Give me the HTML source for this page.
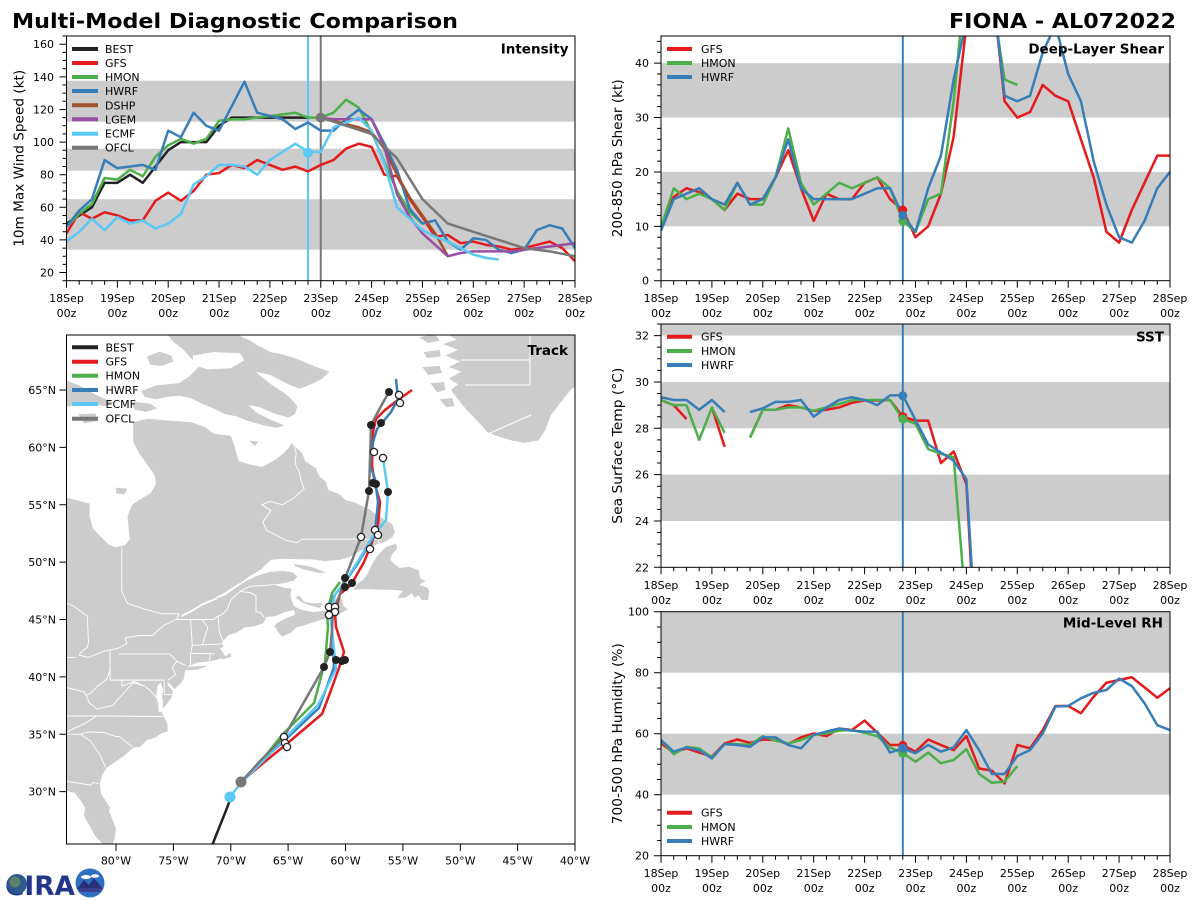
<!DOCTYPE html>
<html><head><meta charset="utf-8"><style>
html,body{margin:0;padding:0;background:#fff;}
svg{display:block;font-family:"DejaVu Sans","Liberation Sans",sans-serif;}
.d{fill:none;stroke-width:2.5;stroke-linejoin:round;stroke-linecap:butt;}
.t{font-size:11px;fill:#000;}
.lg{font-size:11px;fill:#000;}
.tt{font-size:13.5px;font-weight:bold;fill:#000;}
.yl{font-size:13px;fill:#000;}
.ax{fill:none;stroke:#000;stroke-width:1;}
.tk{stroke:#000;stroke-width:1;fill:none;}
.bd{fill:none;stroke:#fff;stroke-width:0.9;}
</style></head><body>
<svg width="1200" height="900" viewBox="0 0 1200 900" xmlns="http://www.w3.org/2000/svg">
<defs>
<clipPath id="ci"><rect x="66.5" y="36" width="508.5" height="244.7"/></clipPath>
<clipPath id="cs"><rect x="661" y="36" width="509" height="244.7"/></clipPath>
<clipPath id="ct"><rect x="661" y="324" width="509" height="243.3"/></clipPath>
<clipPath id="cr"><rect x="661" y="611.7" width="509" height="244"/></clipPath>
<clipPath id="cm"><rect x="66.5" y="335" width="508.5" height="509"/></clipPath>
</defs>
<rect width="1200" height="900" fill="#fff"/>

<!-- Titles -->
<text x="12" y="28" font-size="20.5" font-weight="bold" textLength="446" lengthAdjust="spacingAndGlyphs">Multi-Model Diagnostic Comparison</text>
<text x="1176" y="28" font-size="20.5" font-weight="bold" text-anchor="end" textLength="227" lengthAdjust="spacingAndGlyphs">FIONA - AL072022</text>

<!-- ================= INTENSITY ================= -->
<rect x="66.5" y="80.7" width="508.5" height="41" fill="#cccccc"/>
<rect x="66.5" y="148.7" width="508.5" height="22" fill="#cccccc"/>
<rect x="66.5" y="199.2" width="508.5" height="50.5" fill="#cccccc"/>
<g clip-path="url(#ci)">
<line x1="308" y1="36" x2="308" y2="281" stroke="#5bc8f5" stroke-width="2"/>
<line x1="320.75" y1="36" x2="320.75" y2="281" stroke="#777" stroke-width="2"/>
<g transform="matrix(2.11875 0 0 -1.631 66.5 305.17)">
<polyline class="d" vector-effect="non-scaling-stroke" stroke="#222" points="0,50 6,55 12,60 18,75 24,75 30,80 36,75 42,85 48,95 54,100 60,100 66,100 72,110 78,115 84,115 90,115 96,115 102,115 108,115 114,115"/>
<polyline class="d" vector-effect="non-scaling-stroke" stroke="#e41a1c" points="0,44 6,57 12,53 18,57 24,55 30,52 36,52 42,64 48,69 54,64 60,70 66,80 72,81 78,86 84,84 90,89 96,86 102,83 108,85 114,82 120,86 126,89 132,96 138,99 144,97 150,80 156,79 162,65 168,54 174,42 180,43 186,38 192,39 198,37 204,36 210,34 216,35 222,37 228,39 234,35 240,27"/>
<polyline class="d" vector-effect="non-scaling-stroke" stroke="#4daf4a" points="0,48 6,56 12,62 18,78 24,77 30,83 36,79 42,91 48,98 54,102 60,99 66,102 72,113 78,114 84,114 90,115 96,116 102,117 108,118 114,115 120,115 126,118 132,126 138,121 144,106 150,88 156,70 162,57 168,50"/>
<polyline class="d" vector-effect="non-scaling-stroke" stroke="#377eb8" points="0,48 6,58 12,65 18,89 24,84 30,85 36,86 42,83 48,107 54,103 60,118 66,110 72,107 78,122 84,137 90,118 96,116 102,114 108,108 114,112 120,107 126,107 132,114 138,120 144,114 150,99 156,83 162,59 168,50 174,52 180,39 186,34 192,41 198,40 204,34 210,32 216,34 222,46 228,49 234,47 240,35"/>
<polyline class="d" vector-effect="non-scaling-stroke" stroke="#a0522d" points="120,115 126,113 132,111 138,109 144,106 150,96 156,80 162,66 168,55 174,44 180,30"/>
<polyline class="d" vector-effect="non-scaling-stroke" stroke="#984ea3" points="120,115 126,114 132,114 138,114 144,114 150,97 156,68 162,54 168,44 174,37 180,30 186,32 192,33 198,33 204,33 210,33 216,34 222,35 228,36 234,37 240,38"/>
<polyline class="d" vector-effect="non-scaling-stroke" stroke="#5bc8f5" points="0,39 6,45 12,53 18,46 24,54 30,50 36,52 42,47 48,50 54,56 60,74 66,79 72,86 78,86 84,85 90,80 96,89 102,94 108,99 114,94 120,94 126,109 132,112 138,115 144,107 150,87 156,60 162,53 168,46 174,42 180,39 186,35 192,31 198,29 204,28"/>
<polyline class="d" vector-effect="non-scaling-stroke" stroke="#777" points="120,115 132,110 144,105 156,90 168,65 180,50 192,45 204,40 216,35 228,33 240,30"/>
</g>
<circle cx="308" cy="152.7" r="5" fill="#5bc8f5"/>
<circle cx="320.75" cy="117.6" r="5" fill="#777"/>
</g>
<rect class="ax" x="66.5" y="36" width="508.5" height="244.7"/>
<g transform="matrix(1 0 0 -1.631 0 305.17)">
<path class="tk" vector-effect="non-scaling-stroke" d="M59.5 20H66.5M59.5 40H66.5M59.5 60H66.5M59.5 80H66.5M59.5 100H66.5M59.5 120H66.5M59.5 140H66.5M59.5 160H66.5"/>
<path class="tk" vector-effect="non-scaling-stroke" d="M62.5 15H66.5M62.5 25H66.5M62.5 30H66.5M62.5 35H66.5M62.5 45H66.5M62.5 50H66.5M62.5 55H66.5M62.5 65H66.5M62.5 70H66.5M62.5 75H66.5M62.5 85H66.5M62.5 90H66.5M62.5 95H66.5M62.5 105H66.5M62.5 110H66.5M62.5 115H66.5M62.5 125H66.5M62.5 130H66.5M62.5 135H66.5M62.5 145H66.5M62.5 150H66.5M62.5 155H66.5M62.5 165H66.5"/>
</g>
<g transform="matrix(2.11875 0 0 1 66.5 0)">
<path class="tk" vector-effect="non-scaling-stroke" d="M0 280.7v7M24 280.7v7M48 280.7v7M72 280.7v7M96 280.7v7M120 280.7v7M144 280.7v7M168 280.7v7M192 280.7v7M216 280.7v7M240 280.7v7"/>
<path class="tk" vector-effect="non-scaling-stroke" d="M6 280.7v4M12 280.7v4M18 280.7v4M30 280.7v4M36 280.7v4M42 280.7v4M54 280.7v4M60 280.7v4M66 280.7v4M78 280.7v4M84 280.7v4M90 280.7v4M102 280.7v4M108 280.7v4M114 280.7v4M126 280.7v4M132 280.7v4M138 280.7v4M150 280.7v4M156 280.7v4M162 280.7v4M174 280.7v4M180 280.7v4M186 280.7v4M198 280.7v4M204 280.7v4M210 280.7v4M222 280.7v4M228 280.7v4M234 280.7v4"/>
</g>
<g class="t" text-anchor="end">
<text x="54" y="276.5">20</text><text x="54" y="243.9">40</text><text x="54" y="211.3">60</text><text x="54" y="178.7">80</text><text x="54" y="146.1">100</text><text x="54" y="113.4">120</text><text x="54" y="80.8">140</text><text x="54" y="48.2">160</text>
</g>
<g class="t" text-anchor="middle">
<text x="66.5" y="302">18Sep</text><text x="117.4" y="302">19Sep</text><text x="168.2" y="302">20Sep</text><text x="219.1" y="302">21Sep</text><text x="269.9" y="302">22Sep</text><text x="320.8" y="302">23Sep</text><text x="371.6" y="302">24Sep</text><text x="422.5" y="302">25Sep</text><text x="473.3" y="302">26Sep</text><text x="524.2" y="302">27Sep</text><text x="575" y="302">28Sep</text>
<text x="66.5" y="317">00z</text><text x="117.4" y="317">00z</text><text x="168.2" y="317">00z</text><text x="219.1" y="317">00z</text><text x="269.9" y="317">00z</text><text x="320.8" y="317">00z</text><text x="371.6" y="317">00z</text><text x="422.5" y="317">00z</text><text x="473.3" y="317">00z</text><text x="524.2" y="317">00z</text><text x="575" y="317">00z</text>
</g>
<text class="yl" transform="translate(23.5 158.3) rotate(-90)" text-anchor="middle" textLength="177" lengthAdjust="spacingAndGlyphs">10m Max Wind Speed (kt)</text>
<text class="tt" x="568.5" y="53.5" text-anchor="end">Intensity</text>
<g stroke-width="4">
<line x1="72" y1="49" x2="98" y2="49" stroke="#222"/>
<line x1="72" y1="63" x2="98" y2="63" stroke="#e41a1c"/>
<line x1="72" y1="77" x2="98" y2="77" stroke="#4daf4a"/>
<line x1="72" y1="91" x2="98" y2="91" stroke="#377eb8"/>
<line x1="72" y1="105.3" x2="98" y2="105.3" stroke="#a0522d"/>
<line x1="72" y1="119.3" x2="98" y2="119.3" stroke="#984ea3"/>
<line x1="72" y1="133.7" x2="98" y2="133.7" stroke="#5bc8f5"/>
<line x1="72" y1="147.7" x2="98" y2="147.7" stroke="#777"/>
</g>
<g class="lg">
<text x="105" y="53">BEST</text><text x="105" y="67">GFS</text><text x="105" y="81">HMON</text><text x="105" y="95">HWRF</text><text x="105" y="109.3">DSHP</text><text x="105" y="123.3">LGEM</text><text x="105" y="137.7">ECMF</text><text x="105" y="151.7">OFCL</text>
</g>

<!-- ================= SHEAR ================= -->
<rect x="661" y="63.2" width="509" height="54.4" fill="#cccccc"/>
<rect x="661" y="171.9" width="509" height="54.4" fill="#cccccc"/>
<g clip-path="url(#cs)">
<line x1="902.8" y1="36" x2="902.8" y2="281" stroke="#377eb8" stroke-width="2"/>
<g transform="matrix(2.1208 0 0 -5.438 661 280.7)">
<polyline class="d" vector-effect="non-scaling-stroke" stroke="#e41a1c" points="0,10 6,15.4 12,17 18,16.3 24,15 30,13 36,16 42,15 48,15 54,19 60,24 66,17 72,11 78,16 84,15 90,15 96,18 102,19 108,15 114,13 120,8 126,10 132,16 138,26.5 144,47 150,60 156,55 162,33 168,30 174,31 180,36 186,34 192,33 198,26 204,19 210,9 216,7 222,13 228,18 234,23 240,23"/>
<polyline class="d" vector-effect="non-scaling-stroke" stroke="#4daf4a" points="0,9.8 6,17 12,15 18,16 24,15 30,13 36,18 42,14 48,14 54,19 60,28 66,18 72,14 78,16 84,18 90,17 96,18 102,19 108,17 114,11 120,9 126,15 132,16 138,33 144,57 150,60 156,52 162,37 168,36"/>
<polyline class="d" vector-effect="non-scaling-stroke" stroke="#377eb8" points="0,9.2 6,15 12,16 18,17 24,15 30,14 36,18 42,14 48,15 54,19 60,26 66,17 72,15 78,15 84,15 90,15 96,16 102,17 108,17 114,12 120,9 126,17 132,23 138,37 144,47.7 150,60 156,55 162,34 168,33 174,34 180,42 186,47 192,38 198,33 204,22 210,14 216,8 222,7 228,11 234,17 240,20"/>
</g>
<circle cx="902.8" cy="210" r="4.5" fill="#e41a1c"/>
<circle cx="902.8" cy="220.9" r="4.5" fill="#4daf4a"/>
<circle cx="902.8" cy="215.4" r="4.5" fill="#377eb8"/>
</g>
<rect class="ax" x="661" y="36" width="509" height="244.7"/>
<g transform="matrix(1 0 0 -5.438 0 280.7)">
<path class="tk" vector-effect="non-scaling-stroke" d="M654 0H661M654 10H661M654 20H661M654 30H661M654 40H661"/>
<path class="tk" vector-effect="non-scaling-stroke" d="M657 2H661M657 4H661M657 6H661M657 8H661M657 12H661M657 14H661M657 16H661M657 18H661M657 22H661M657 24H661M657 26H661M657 28H661M657 32H661M657 34H661M657 36H661M657 38H661M657 42H661M657 44H661"/>
</g>
<g transform="matrix(2.1208 0 0 1 661 0)">
<path class="tk" vector-effect="non-scaling-stroke" d="M0 280.7v7M24 280.7v7M48 280.7v7M72 280.7v7M96 280.7v7M120 280.7v7M144 280.7v7M168 280.7v7M192 280.7v7M216 280.7v7M240 280.7v7"/>
<path class="tk" vector-effect="non-scaling-stroke" d="M6 280.7v4M12 280.7v4M18 280.7v4M30 280.7v4M36 280.7v4M42 280.7v4M54 280.7v4M60 280.7v4M66 280.7v4M78 280.7v4M84 280.7v4M90 280.7v4M102 280.7v4M108 280.7v4M114 280.7v4M126 280.7v4M132 280.7v4M138 280.7v4M150 280.7v4M156 280.7v4M162 280.7v4M174 280.7v4M180 280.7v4M186 280.7v4M198 280.7v4M204 280.7v4M210 280.7v4M222 280.7v4M228 280.7v4M234 280.7v4"/>
</g>
<g class="t" text-anchor="end">
<text x="649" y="284.7">0</text><text x="649" y="230.3">10</text><text x="649" y="175.9">20</text><text x="649" y="121.6">30</text><text x="649" y="67.2">40</text>
</g>
<g class="t" text-anchor="middle">
<text x="661" y="302">18Sep</text><text x="711.9" y="302">19Sep</text><text x="762.8" y="302">20Sep</text><text x="813.7" y="302">21Sep</text><text x="864.6" y="302">22Sep</text><text x="915.5" y="302">23Sep</text><text x="966.4" y="302">24Sep</text><text x="1017.3" y="302">25Sep</text><text x="1068.2" y="302">26Sep</text><text x="1119.1" y="302">27Sep</text><text x="1170" y="302">28Sep</text>
<text x="661" y="317">00z</text><text x="711.9" y="317">00z</text><text x="762.8" y="317">00z</text><text x="813.7" y="317">00z</text><text x="864.6" y="317">00z</text><text x="915.5" y="317">00z</text><text x="966.4" y="317">00z</text><text x="1017.3" y="317">00z</text><text x="1068.2" y="317">00z</text><text x="1119.1" y="317">00z</text><text x="1170" y="317">00z</text>
</g>
<text class="yl" transform="translate(622 158.3) rotate(-90)" text-anchor="middle" textLength="158" lengthAdjust="spacingAndGlyphs">200-850 hPa Shear (kt)</text>
<text class="tt" x="1164" y="53.5" text-anchor="end">Deep-Layer Shear</text>
<g stroke-width="4">
<line x1="667" y1="49" x2="692" y2="49" stroke="#e41a1c"/>
<line x1="667" y1="63" x2="692" y2="63" stroke="#4daf4a"/>
<line x1="667" y1="77" x2="692" y2="77" stroke="#377eb8"/>
</g>
<g class="lg"><text x="701" y="53">GFS</text><text x="701" y="67">HMON</text><text x="701" y="81">HWRF</text></g>

<!-- ================= SST ================= -->
<rect x="661" y="324" width="509" height="11.6" fill="#cccccc"/>
<rect x="661" y="382" width="509" height="46.3" fill="#cccccc"/>
<rect x="661" y="474.6" width="509" height="46.4" fill="#cccccc"/>
<g clip-path="url(#ct)">
<line x1="902.8" y1="324" x2="902.8" y2="568" stroke="#377eb8" stroke-width="2"/>
<g transform="matrix(2.1208 0 0 -23.17 661 1077.04)">
<polyline class="d" vector-effect="non-scaling-stroke" stroke="#e41a1c" points="0,29.22 6,29.0 12,28.4"/>
<polyline class="d" vector-effect="non-scaling-stroke" stroke="#e41a1c" points="24,28.9 30,27.2"/>
<polyline class="d" vector-effect="non-scaling-stroke" stroke="#e41a1c" points="42,27.6 48,28.8 54,28.8 60,29.0 66,28.9 72,28.75 78,28.8 84,28.9 90,29.1 96,29.2 102,29.2 108,29.22 114,28.5 120,28.33 126,28.33 132,26.5 138,27.0 144,25.6 150,15.8"/>
<polyline class="d" vector-effect="non-scaling-stroke" stroke="#4daf4a" points="0,29.22 6,29.0 12,29.0 18,27.5 24,28.9 30,27.8"/>
<polyline class="d" vector-effect="non-scaling-stroke" stroke="#4daf4a" points="42,27.6 48,28.8 54,28.8 60,28.9 66,28.9 72,28.76 78,28.9 84,29.05 90,29.22 96,29.22 102,29.22 108,29.22 114,28.4 120,28.2 126,27.1 132,26.9 138,26.75 144,20"/>
<polyline class="d" vector-effect="non-scaling-stroke" stroke="#377eb8" points="0,29.34 6,29.22 12,29.22 18,28.8 24,29.22 30,28.7"/>
<polyline class="d" vector-effect="non-scaling-stroke" stroke="#377eb8" points="42,28.7 48,28.86 54,29.14 60,29.14 66,29.22 72,28.5 78,28.9 84,29.22 90,29.34 96,29.22 102,29.0 108,29.42 114,29.42 120,28.36 126,27.3 132,26.95 138,26.6 144,25.8 150,16.7"/>
</g>
<circle cx="902.8" cy="416.7" r="4.5" fill="#e41a1c"/>
<circle cx="902.8" cy="419" r="4.5" fill="#4daf4a"/>
<circle cx="902.8" cy="395.8" r="4.5" fill="#377eb8"/>
</g>
<rect class="ax" x="661" y="324" width="509" height="243.3"/>
<g transform="matrix(1 0 0 -23.17 0 1077.04)">
<path class="tk" vector-effect="non-scaling-stroke" d="M654 22H661M654 24H661M654 26H661M654 28H661M654 30H661M654 32H661"/>
<path class="tk" vector-effect="non-scaling-stroke" d="M657 22.5H661M657 23H661M657 23.5H661M657 24.5H661M657 25H661M657 25.5H661M657 26.5H661M657 27H661M657 27.5H661M657 28.5H661M657 29H661M657 29.5H661M657 30.5H661M657 31H661M657 31.5H661M657 32.5H661"/>
</g>
<g transform="matrix(2.1208 0 0 1 661 0)">
<path class="tk" vector-effect="non-scaling-stroke" d="M0 567.3v7M24 567.3v7M48 567.3v7M72 567.3v7M96 567.3v7M120 567.3v7M144 567.3v7M168 567.3v7M192 567.3v7M216 567.3v7M240 567.3v7"/>
<path class="tk" vector-effect="non-scaling-stroke" d="M6 567.3v4M12 567.3v4M18 567.3v4M30 567.3v4M36 567.3v4M42 567.3v4M54 567.3v4M60 567.3v4M66 567.3v4M78 567.3v4M84 567.3v4M90 567.3v4M102 567.3v4M108 567.3v4M114 567.3v4M126 567.3v4M132 567.3v4M138 567.3v4M150 567.3v4M156 567.3v4M162 567.3v4M174 567.3v4M180 567.3v4M186 567.3v4M198 567.3v4M204 567.3v4M210 567.3v4M222 567.3v4M228 567.3v4M234 567.3v4"/>
</g>
<g class="t" text-anchor="end">
<text x="649" y="571.3">22</text><text x="649" y="525">24</text><text x="649" y="478.6">26</text><text x="649" y="432.3">28</text><text x="649" y="386">30</text><text x="649" y="339.6">32</text>
</g>
<g class="t" text-anchor="middle">
<text x="661" y="589">18Sep</text><text x="711.9" y="589">19Sep</text><text x="762.8" y="589">20Sep</text><text x="813.7" y="589">21Sep</text><text x="864.6" y="589">22Sep</text><text x="915.5" y="589">23Sep</text><text x="966.4" y="589">24Sep</text><text x="1017.3" y="589">25Sep</text><text x="1068.2" y="589">26Sep</text><text x="1119.1" y="589">27Sep</text><text x="1170" y="589">28Sep</text>
<text x="661" y="604">00z</text><text x="711.9" y="604">00z</text><text x="762.8" y="604">00z</text><text x="813.7" y="604">00z</text><text x="864.6" y="604">00z</text><text x="915.5" y="604">00z</text><text x="966.4" y="604">00z</text><text x="1017.3" y="604">00z</text><text x="1068.2" y="604">00z</text><text x="1119.1" y="604">00z</text><text x="1170" y="604">00z</text>
</g>
<text class="yl" transform="translate(622 445.7) rotate(-90)" text-anchor="middle" textLength="156" lengthAdjust="spacingAndGlyphs">Sea Surface Temp (°C)</text>
<text class="tt" x="1164" y="341.5" text-anchor="end">SST</text>
<g stroke-width="4">
<line x1="667" y1="336.7" x2="692" y2="336.7" stroke="#e41a1c"/>
<line x1="667" y1="351" x2="692" y2="351" stroke="#4daf4a"/>
<line x1="667" y1="365" x2="692" y2="365" stroke="#377eb8"/>
</g>
<g class="lg"><text x="701" y="340.7">GFS</text><text x="701" y="355">HMON</text><text x="701" y="369">HWRF</text></g>

<!-- ================= RH ================= -->
<rect x="661" y="611.7" width="509" height="61" fill="#cccccc"/>
<rect x="661" y="733.7" width="509" height="61" fill="#cccccc"/>
<g clip-path="url(#cr)">
<line x1="902.8" y1="611.7" x2="902.8" y2="856" stroke="#377eb8" stroke-width="2"/>
<g transform="matrix(2.1208 0 0 -3.05 661 916.7)">
<polyline class="d" vector-effect="non-scaling-stroke" stroke="#e41a1c" points="0,56.8 6,53.8 12,55.2 18,53.8 24,52.5 30,56.8 36,58.1 42,57 48,58.1 54,57.9 60,56.6 66,58.8 72,60.1 78,59.2 84,61.7 90,61.2 96,64.3 102,60.3 108,56.3 114,56.3 120,54.1 126,58.1 132,56.3 138,54.6 144,59.2 150,48.6 156,47.9 162,43.7 168,56.3 174,55.2 180,61.2 186,69.1 192,69.1 198,66.7 204,72.1 210,76.7 216,77.6 222,78.5 228,75.2 234,71.8 240,74.9"/>
<polyline class="d" vector-effect="non-scaling-stroke" stroke="#4daf4a" points="0,57.9 6,53.3 12,55.7 18,55.2 24,52.2 30,56.6 36,56.6 42,56.3 48,59.2 54,57.7 60,56.8 66,57.9 72,59.6 78,60.1 84,61 90,61.2 96,60.3 102,59.2 108,55.5 114,53.6 120,50.8 126,53.8 132,50.3 138,51.4 144,54.9 150,46.8 156,43.9 162,44.3 168,49.4"/>
<polyline class="d" vector-effect="non-scaling-stroke" stroke="#377eb8" points="0,57.9 6,54.1 12,55.5 18,54.6 24,51.9 30,56.6 36,56.3 42,55.7 48,58.8 54,58.8 60,56.3 66,55.2 72,59.6 78,60.7 84,61.7 90,61 96,60.7 102,60.7 108,53.8 114,55.2 120,53.6 126,56.3 132,54.1 138,55.5 144,61.2 150,54.6 156,46.8 162,46.8 168,52.7 174,54.6 180,60.1 186,68.9 192,69.1 198,71.6 204,73.4 210,74.3 216,78.1 222,75.6 228,70 234,62.8 240,61.2"/>
</g>
<circle cx="902.8" cy="745.4" r="4.5" fill="#e41a1c"/>
<circle cx="902.8" cy="753.2" r="4.5" fill="#4daf4a"/>
<circle cx="902.8" cy="748.3" r="4.5" fill="#377eb8"/>
</g>
<rect class="ax" x="661" y="611.7" width="509" height="244"/>
<g transform="matrix(1 0 0 -3.05 0 916.7)">
<path class="tk" vector-effect="non-scaling-stroke" d="M654 20H661M654 40H661M654 60H661M654 80H661M654 100H661"/>
<path class="tk" vector-effect="non-scaling-stroke" d="M657 25H661M657 30H661M657 35H661M657 45H661M657 50H661M657 55H661M657 65H661M657 70H661M657 75H661M657 85H661M657 90H661M657 95H661"/>
</g>
<g transform="matrix(2.1208 0 0 1 661 0)">
<path class="tk" vector-effect="non-scaling-stroke" d="M0 855.7v7M24 855.7v7M48 855.7v7M72 855.7v7M96 855.7v7M120 855.7v7M144 855.7v7M168 855.7v7M192 855.7v7M216 855.7v7M240 855.7v7"/>
<path class="tk" vector-effect="non-scaling-stroke" d="M6 855.7v4M12 855.7v4M18 855.7v4M30 855.7v4M36 855.7v4M42 855.7v4M54 855.7v4M60 855.7v4M66 855.7v4M78 855.7v4M84 855.7v4M90 855.7v4M102 855.7v4M108 855.7v4M114 855.7v4M126 855.7v4M132 855.7v4M138 855.7v4M150 855.7v4M156 855.7v4M162 855.7v4M174 855.7v4M180 855.7v4M186 855.7v4M198 855.7v4M204 855.7v4M210 855.7v4M222 855.7v4M228 855.7v4M234 855.7v4"/>
</g>
<g class="t" text-anchor="end">
<text x="649" y="859.7">20</text><text x="649" y="798.7">40</text><text x="649" y="737.7">60</text><text x="649" y="676.7">80</text><text x="649" y="615.7">100</text>
</g>
<g class="t" text-anchor="middle">
<text x="661" y="877">18Sep</text><text x="711.9" y="877">19Sep</text><text x="762.8" y="877">20Sep</text><text x="813.7" y="877">21Sep</text><text x="864.6" y="877">22Sep</text><text x="915.5" y="877">23Sep</text><text x="966.4" y="877">24Sep</text><text x="1017.3" y="877">25Sep</text><text x="1068.2" y="877">26Sep</text><text x="1119.1" y="877">27Sep</text><text x="1170" y="877">28Sep</text>
<text x="661" y="892">00z</text><text x="711.9" y="892">00z</text><text x="762.8" y="892">00z</text><text x="813.7" y="892">00z</text><text x="864.6" y="892">00z</text><text x="915.5" y="892">00z</text><text x="966.4" y="892">00z</text><text x="1017.3" y="892">00z</text><text x="1068.2" y="892">00z</text><text x="1119.1" y="892">00z</text><text x="1170" y="892">00z</text>
</g>
<text class="yl" transform="translate(622 733.7) rotate(-90)" text-anchor="middle" textLength="181" lengthAdjust="spacingAndGlyphs">700-500 hPa Humidity (%)</text>
<text class="tt" x="1163" y="627.5" text-anchor="end">Mid-Level RH</text>
<g stroke-width="4">
<line x1="667" y1="812.7" x2="692" y2="812.7" stroke="#e41a1c"/>
<line x1="667" y1="827" x2="692" y2="827" stroke="#4daf4a"/>
<line x1="667" y1="841" x2="692" y2="841" stroke="#377eb8"/>
</g>
<g class="lg"><text x="701" y="816.7">GFS</text><text x="701" y="831">HMON</text><text x="701" y="845">HWRF</text></g>

<!-- ================= TRACK MAP ================= -->
<g clip-path="url(#cm)">
<g transform="matrix(11.475 0 0 -11.475 1034 1135.9)" fill="#cccccc">
<polygon points="-90,30 -85,29.7 -84.3,30.05 -83.6,29.9 -83.0,29.1 -82.7,28.6 -82.8,27.9 -82.4,27.2 -81.8,26.1 -81.2,25.5 -80.9,25.1 -80.4,25.1 -80.1,26.0 -80.0,26.8 -80.6,28.3 -80.5,28.6 -81.3,29.8 -81.4,30.7 -81.2,31.5 -80.8,32.1 -79.9,32.7 -79.2,33.2 -78.5,33.85 -77.9,33.9 -77.3,34.5 -76.6,34.7 -76.0,35.1 -75.5,35.25 -75.5,35.8 -75.8,36.5 -76.0,36.9 -76.3,37.0 -76.3,37.6 -76.5,38.3 -76.4,39.2 -76.1,39.5 -75.9,38.9 -76.0,38.3 -75.9,37.9 -75.95,37.2 -75.6,37.6 -75.1,38.3 -75.05,38.8 -75.5,39.3 -75.5,39.6 -74.9,38.95 -74.4,39.4 -74.1,39.8 -74.0,40.4 -74.0,40.6 -73.8,40.85 -72.9,41.25 -71.9,41.35 -71.2,41.5 -70.9,41.6 -70.6,41.55 -70.0,41.75 -69.95,41.95 -70.1,42.07 -70.5,41.8 -70.7,42.2 -70.95,42.45 -70.6,42.65 -70.8,42.9 -70.6,43.2 -70.2,43.65 -69.5,43.85 -68.8,44.3 -68.0,44.4 -67.2,44.65 -67.0,44.9 -66.95,45.2 -66.1,45.3 -65.4,45.6 -64.8,45.75 -64.5,45.85 -64.4,45.4 -65.0,45.2 -65.9,44.75 -66.2,44.4 -65.8,43.8 -65.5,43.5 -64.7,43.9 -64.3,44.3 -63.6,44.5 -63.0,44.7 -62.0,45.0 -61.1,45.25 -60.2,45.65 -59.8,45.9 -60.2,46.2 -60.3,46.8 -60.6,47.03 -61.0,46.6 -61.5,46.1 -61.5,45.75 -62.0,45.75 -62.8,45.65 -63.7,45.8 -64.1,45.95 -64.5,46.2 -64.7,46.7 -64.8,47.1 -64.7,47.7 -65.3,47.75 -66.3,48.05 -65.5,48.15 -64.5,48.4 -64.2,48.75 -64.6,49.1 -65.5,49.25 -66.6,49.15 -67.6,48.85 -68.6,48.4 -69.5,47.8 -70.5,47.1 -71.2,46.85 -71.3,46.95 -70.5,47.35 -69.7,47.9 -69.0,48.3 -68.3,48.8 -67.4,49.35 -66.5,50.2 -65.5,50.3 -64.0,50.25 -63.0,50.25 -61.8,50.1 -60.5,50.2 -59.5,50.5 -58.5,51.1 -57.5,51.45 -57.1,51.6 -56.5,51.8 -55.9,52.2 -55.7,52.6 -55.9,53.3 -56.6,53.7 -57.4,54.2 -57.9,54.6 -59.2,55.2 -60.0,55.4 -60.5,55.9 -61.5,56.3 -61.7,57.0 -62.3,57.5 -62.6,58.2 -63.5,58.8 -63.8,59.5 -64.3,60.0 -64.7,60.35 -65.0,59.9 -65.5,59.4 -66.3,58.8 -67.3,58.3 -68.3,58.5 -69.3,58.8 -69.5,59.5 -69.8,60.5 -70.0,61.0 -71.5,61.2 -72.3,61.8 -73.5,62.2 -75.0,62.3 -77.2,62.5 -78.1,62.3 -78.5,62.2 -78.5,60.5 -78.0,59.5 -77.2,58.4 -76.6,57.5 -76.5,56.8 -77.0,56.0 -78.0,55.4 -78.6,55.0 -79.0,54.0 -78.9,53.0 -78.8,52.0 -79.2,51.5 -80.0,51.3 -80.6,51.5 -81.3,52.2 -82.0,52.9 -82.3,54.0 -82.3,55.1 -85,55.8 -90,56"/>
<polygon points="-74.0,40.57 -73.0,40.62 -71.9,40.98 -72.6,40.95 -73.6,40.9 -74.0,40.7"/>
<polygon points="-64.4,46.95 -63.8,46.5 -63.0,46.2 -62.2,46.0 -62.0,46.45 -62.8,46.4 -63.6,46.55 -64.0,47.05"/>
<polygon points="-64.5,49.85 -63.0,49.6 -61.7,49.1 -62.3,49.05 -63.6,49.35 -64.4,49.65"/>
<polygon points="-59.3,47.6 -59.0,48.1 -58.4,48.5 -58.0,49.1 -57.8,49.6 -57.4,50.3 -57.0,50.8 -56.5,51.3 -55.6,51.6 -55.5,51.2 -56.0,50.6 -56.1,50.2 -55.8,49.9 -55.3,49.5 -54.5,49.6 -53.6,49.3 -53.5,48.6 -53.0,48.4 -53.6,48.0 -52.9,47.8 -52.7,47.5 -52.8,46.7 -53.4,46.7 -53.6,47.1 -54.0,46.9 -54.2,47.3 -54.8,46.9 -55.5,46.9 -55.0,47.5 -56.0,47.6 -57.0,47.6 -58.2,47.65"/>
<polygon points="-86,66.3 -84.5,65.9 -83,65.3 -81.8,64.6 -80.2,63.9 -81.0,63.6 -82.5,63.9 -84.0,63.6 -86,63.3"/>
<polygon points="-83.3,62.9 -81.8,62.95 -81.6,62.3 -82.8,62.1"/>
<polygon points="-78.6,64.0 -77.0,63.8 -76.4,63.4 -77.4,63.1 -78.4,63.3"/>
<polygon points="-68.4,60.6 -67.6,60.5 -67.9,60.1"/>
<polygon points="-80,56.5 -79,56.4 -79.3,55.9 -80.0,56.0"/>
<polygon points="-77.8,64.9 -77.5,64.4 -76.5,64.2 -75.5,64.4 -74.5,64.5 -73.5,64.3 -72.5,63.8 -71.5,63.4 -70.5,62.9 -69.5,62.7 -68.5,62.3 -67.0,61.9 -66.0,61.7 -65.3,61.9 -66.5,62.4 -67.7,63.0 -68.5,63.7 -67.5,63.5 -66.3,63.0 -65.0,62.6 -64.4,62.9 -64.2,63.6 -64.8,64.3 -65.3,64.7 -66.5,65.5 -67.5,66.3 -67.8,66.6 -66.5,66.3 -65.2,65.6 -64.0,65.1 -63.0,65.5 -62.0,66.0 -61.4,66.6 -62.5,67.0 -63.5,67.4 -64.5,67.8 -65.5,68.1 -66.5,68.3 -67.5,68.8 -68.3,69.3 -69.0,69.6 -69.5,70.0 -70,71 -76,71 -75.5,69.8 -75.0,69.2 -74.2,68.6 -73.5,67.8 -72.8,67.0 -73.6,66.2 -74.5,65.6 -76.5,65.4"/>
<polygon points="-77.3,67.9 -76.2,68.35 -75.2,68.0 -75.0,67.5 -76.0,67.1 -77.0,67.2"/>
<polygon fill="#fff" points="-73.3,68.0 -71.5,68.3 -69.2,68.2 -68.8,67.6 -70.0,66.9 -72.0,66.8 -73.3,67.2"/>
<polygon points="-51.5,70.5 -51.0,69.8 -50.3,69.4 -51.5,69.0 -50.2,68.5 -51.3,68.0 -50.0,67.5 -51.0,67.0 -49.9,66.6 -51.0,66.0 -50.2,65.5 -50.8,65.0 -50.2,64.2 -49.3,63.1 -48.5,62.3 -47.6,61.3 -46.5,60.9 -45.5,60.6 -44.4,60.4 -43.2,60.6 -42.6,61.5 -42.1,62.8 -41.2,64.0 -40.3,65.1 -39.5,65.5 -39,71"/>
<polygon points="-53.6,69.6 -52.2,69.9 -51.8,69.3 -52.8,69.1"/>
<polygon points="-53.2,68.3 -51.8,68.5 -51.7,67.9 -52.9,67.8"/>
<polygon points="-53.3,67.0 -51.8,67.1 -51.6,66.5 -52.8,66.3"/>
<polygon points="-52.6,65.6 -51.4,65.7 -51.3,65.0 -52.0,64.8"/>
<polygon points="-51.8,64.2 -50.7,64.3 -50.5,63.6 -51.2,63.5"/>
<g class="bd">
<polyline vector-effect="non-scaling-stroke" points="-84.4,46.5 -83.6,46.1 -82.5,45.3 -82.4,43.0 -82.5,42.6 -83.1,42.1 -83.2,41.9 -82.4,41.7 -81.0,42.25 -79.8,42.5 -79.05,42.9 -79.2,43.4 -78.0,43.6 -76.8,43.6 -76.3,44.1 -75.8,44.5 -74.8,45.0 -71.5,45.0 -71.1,45.3 -70.8,45.4 -70.3,45.9 -70.0,46.7 -69.2,47.45 -68.3,47.35 -67.8,47.07 -67.8,45.7 -67.4,45.6 -67.1,45.2"/>
<polyline vector-effect="non-scaling-stroke" points="-79.5,51.3 -79.5,47.5 -79.0,46.4 -77.5,45.9 -76.0,45.5 -74.5,45.5 -74.7,45.0"/>
<polyline vector-effect="non-scaling-stroke" points="-69.2,47.45 -68.3,47.9 -66.8,47.99 -66.3,48.05"/>
<polyline vector-effect="non-scaling-stroke" points="-57.1,51.6 -57.1,52.0 -63.8,52.0 -64.2,51.7 -65.2,51.9 -66.9,52.8 -67.2,53.5 -66.5,54.5 -67.3,55.0 -66.6,55.3 -65.5,55.0 -64.5,55.6 -63.6,56.4 -63.9,57.2 -64.0,57.8 -64.4,58.6 -64.3,59.5 -64.5,60.3"/>
<polyline vector-effect="non-scaling-stroke" points="-79.76,42.0 -75.35,42.0 -75.1,41.8 -74.7,41.35 -73.9,40.99"/>
<polyline vector-effect="non-scaling-stroke" points="-80.52,42.3 -80.52,39.72 -75.8,39.72 -75.8,38.45 -75.05,38.45"/>
<polyline vector-effect="non-scaling-stroke" points="-74.7,41.35 -75.1,40.8 -74.8,40.2 -75.5,39.7"/>
<polyline vector-effect="non-scaling-stroke" points="-73.5,45.0 -73.35,42.75 -73.5,42.05 -73.5,41.1 -73.65,40.95"/>
<polyline vector-effect="non-scaling-stroke" points="-73.35,42.75 -70.8,42.87"/>
<polyline vector-effect="non-scaling-stroke" points="-72.5,45.0 -72.0,44.3 -72.5,42.75"/>
<polyline vector-effect="non-scaling-stroke" points="-71.1,45.3 -71.0,44.0 -70.7,43.1"/>
<polyline vector-effect="non-scaling-stroke" points="-73.5,42.05 -71.8,42.02 -71.4,42.0"/>
<polyline vector-effect="non-scaling-stroke" points="-71.8,42.02 -71.85,41.3"/>
<polyline vector-effect="non-scaling-stroke" points="-80.52,40.64 -80.6,40.4 -80.8,39.8 -81.6,39.2 -82.2,38.6 -82.6,38.4 -82.8,38.7 -84.4,39.1"/>
<polyline vector-effect="non-scaling-stroke" points="-82.6,38.4 -82.3,37.7 -82.0,37.5 -81.7,37.2 -80.3,37.5 -79.5,38.4 -78.5,39.5 -77.8,39.3 -77.5,39.2 -77.0,38.8 -76.3,38.0"/>
<polyline vector-effect="non-scaling-stroke" points="-79.5,39.72 -79.48,39.2 -78.4,39.6 -77.8,39.3"/>
<polyline vector-effect="non-scaling-stroke" points="-84.4,36.6 -81.7,36.6 -75.9,36.55"/>
<polyline vector-effect="non-scaling-stroke" points="-81.7,36.6 -82.6,36.0 -84.3,35.2 -84.4,35.0"/>
<polyline vector-effect="non-scaling-stroke" points="-84.4,35.0 -83.1,35.0 -82.4,35.2 -81.0,35.15 -80.9,35.1 -80.0,34.8 -79.7,34.8 -78.6,33.9"/>
<polyline vector-effect="non-scaling-stroke" points="-83.1,35.0 -82.2,34.4 -81.4,33.2 -80.9,32.1"/>
<polyline vector-effect="non-scaling-stroke" points="-84.9,31.0 -82.2,30.57 -82.0,30.8 -81.5,30.7"/>
<polyline vector-effect="non-scaling-stroke" points="-84.4,41.7 -83.5,41.7"/>
<polyline vector-effect="non-scaling-stroke" stroke-width="1.8" points="-71.2,46.85 -72.5,46.3 -73.5,45.7 -74.3,45.3"/>
</g>
</g>
<path d="M461 360H530M530 335V385M465 385H530M488 434L531 415" stroke="#fff" stroke-width="1" fill="none"/>
<!-- tracks -->
<polyline class="d" stroke="#222" points="212,846 215,838 219,828 223,818 227,808 231,797"/>
<polyline class="d" stroke="#e41a1c" points="241,782 262,764 283,747 322,714 330,693 340,665 344,652 336,627 335,613 340,594 351,585 364,562 371,545 378,525 380,502 375,485 372,465 373,432 376,419 385,410 398,400 412,390"/>
<polyline class="d" stroke="#4daf4a" points="241,782 262,760 282,735 314,703 325,662 328,627 327,613 332,593 340,582"/>
<polyline class="d" stroke="#377eb8" points="241,782 263,760 285,740 319,708 334,667 332,627 330,610 334,596 345,582 358,563 372,540 375,532 378,502 375,479 370,465 373,442 377,429 391,412 398,399 396,379"/>
<polyline class="d" stroke="#5bc8f5" points="230,797 241,783 262,762 284,739 318,705 336,669 333,640 330,612 335,595 346,580 360,558 371,539 386,520 388,492 383,458"/>
<polyline class="d" stroke="#777" points="241,782 262,759 284,737 304,702 324,667 330,652 332,630 333,612 340,594 345,578 353,558 361,537 365,514 369,491 370,460 371,425 380,408 389,392"/>
<g fill="#222">
<circle cx="324" cy="667" r="4"/><circle cx="330" cy="652" r="4"/><circle cx="336" cy="660" r="4"/><circle cx="342" cy="661" r="4"/><circle cx="345" cy="660" r="4"/><circle cx="345" cy="587" r="4"/><circle cx="352" cy="583" r="4"/><circle cx="345" cy="578" r="4"/><circle cx="389" cy="392" r="4"/><circle cx="371" cy="425" r="4"/><circle cx="381" cy="423" r="4"/><circle cx="373" cy="483" r="4"/><circle cx="376" cy="484" r="4"/><circle cx="369" cy="491" r="4"/><circle cx="388" cy="492" r="4"/>
</g>
<g fill="#fff" stroke="#222" stroke-width="1.3">
<circle cx="284" cy="737" r="3.6"/><circle cx="285" cy="743" r="3.6"/><circle cx="287" cy="747" r="3.6"/><circle cx="329" cy="607" r="3.6"/><circle cx="335" cy="607" r="3.6"/><circle cx="335" cy="612" r="3.6"/><circle cx="329" cy="615" r="3.6"/><circle cx="399" cy="395" r="3.6"/><circle cx="400" cy="403" r="3.6"/><circle cx="374" cy="452" r="3.6"/><circle cx="383" cy="458" r="3.6"/><circle cx="361" cy="537" r="3.6"/><circle cx="375" cy="530" r="3.6"/><circle cx="378" cy="535" r="3.6"/><circle cx="370" cy="549" r="3.6"/>
</g>
<circle cx="241" cy="782" r="5.5" fill="#777"/>
<circle cx="230" cy="797" r="5.5" fill="#5bc8f5"/>
</g>
<rect class="ax" x="66.5" y="335" width="508.5" height="509"/>
<path class="tk" d="M59.5 390H66.5M59.5 447.4H66.5M59.5 504.8H66.5M59.5 562.1H66.5M59.5 619.5H66.5M59.5 676.9H66.5M59.5 734.3H66.5M59.5 791.6H66.5"/>
<path class="tk" d="M116 844v7M173.4 844v7M230.8 844v7M288.1 844v7M345.5 844v7M402.9 844v7M460.3 844v7M517.6 844v7M575 844v7"/>
<g class="t" text-anchor="end">
<text x="56" y="394">65°N</text><text x="56" y="451.4">60°N</text><text x="56" y="508.8">55°N</text><text x="56" y="566.1">50°N</text><text x="56" y="623.5">45°N</text><text x="56" y="680.9">40°N</text><text x="56" y="738.3">35°N</text><text x="56" y="795.6">30°N</text>
</g>
<g class="t" text-anchor="middle">
<text x="116" y="864.5">80°W</text><text x="173.4" y="864.5">75°W</text><text x="230.8" y="864.5">70°W</text><text x="288.1" y="864.5">65°W</text><text x="345.5" y="864.5">60°W</text><text x="402.9" y="864.5">55°W</text><text x="460.3" y="864.5">50°W</text><text x="517.6" y="864.5">45°W</text><text x="575" y="864.5">40°W</text>
</g>
<text class="tt" x="568" y="355" text-anchor="end">Track</text>
<g stroke-width="4">
<line x1="72" y1="347.3" x2="98" y2="347.3" stroke="#222"/>
<line x1="72" y1="361.7" x2="98" y2="361.7" stroke="#e41a1c"/>
<line x1="72" y1="375.7" x2="98" y2="375.7" stroke="#4daf4a"/>
<line x1="72" y1="390" x2="98" y2="390" stroke="#377eb8"/>
<line x1="72" y1="404" x2="98" y2="404" stroke="#5bc8f5"/>
<line x1="72" y1="418.7" x2="98" y2="418.7" stroke="#777"/>
</g>
<g class="lg">
<text x="105.5" y="351.3">BEST</text><text x="105.5" y="365.7">GFS</text><text x="105.5" y="379.7">HMON</text><text x="105.5" y="394">HWRF</text><text x="105.5" y="408">ECMF</text><text x="105.5" y="422.7">OFCL</text>
</g>

<!-- Logo -->
<text x="5" y="895" font-size="27" font-weight="bold" fill="#23378a" textLength="70" lengthAdjust="spacingAndGlyphs" font-family="DejaVu Sans, Liberation Sans, sans-serif">CIRA</text>
<circle cx="17" cy="884" r="10" fill="#2c5a8a"/>
<circle cx="15" cy="882" r="5.5" fill="#6f8f5a" opacity="0.7"/>
<circle cx="90" cy="883" r="14.5" fill="#2f6fc0"/>
<path d="M77 889 L84 880 L89 885 L94 878 L103 889 Z" fill="#2a2f7a"/>
<ellipse cx="86" cy="877" rx="5" ry="2" fill="#fff"/>
<ellipse cx="95" cy="876" rx="4" ry="1.8" fill="#fff"/>
<rect x="79" y="888" width="22" height="4" rx="2" fill="#3a3f8f"/>
</svg>
</body></html>
